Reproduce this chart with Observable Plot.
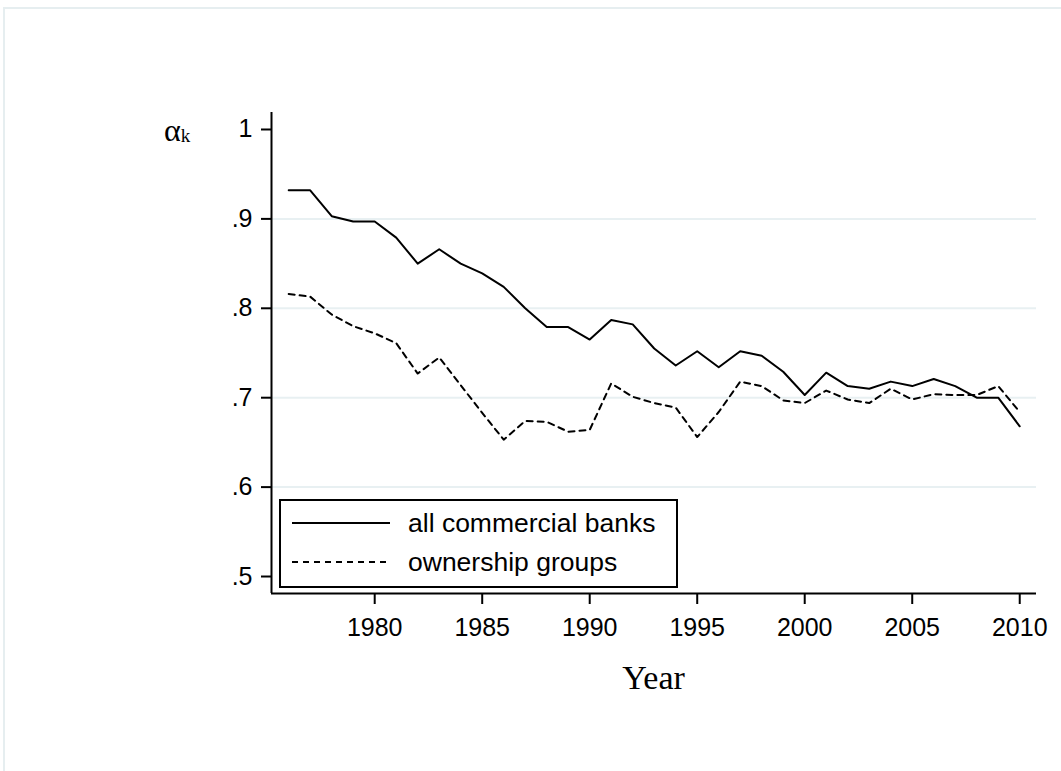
<!DOCTYPE html>
<html>
<head>
<meta charset="utf-8">
<script src="https://cdn.jsdelivr.net/npm/d3@7"></script>
<script src="https://cdn.jsdelivr.net/npm/@observablehq/plot@0.6"></script>
<style>
  html, body { margin: 0; padding: 0; background: #fff; overflow: hidden; }
  #wrap { position: relative; width: 1061px; height: 771px; }
  #frame { position: absolute; left: 3px; top: 7px; width: 1100px; height: 800px;
           border: 2px solid #e6eef0; pointer-events: none; }
</style>
</head>
<body>
<div id="wrap"><div id="frame"></div></div>
<script>
const years = [1976,1977,1978,1979,1980,1981,1982,1983,1984,1985,1986,1987,1988,1989,1990,
               1991,1992,1993,1994,1995,1996,1997,1998,1999,2000,2001,2002,2003,2004,2005,
               2006,2007,2008,2009,2010];
const allBanks = [0.932,0.932,0.903,0.897,0.897,0.879,0.850,0.866,0.850,0.839,0.824,0.800,0.779,0.779,0.765,
                  0.787,0.782,0.755,0.736,0.752,0.734,0.752,0.747,0.729,0.703,0.728,0.713,0.710,0.718,0.713,
                  0.721,0.713,0.700,0.700,0.668];
const ownershipGroups = [0.816,0.813,0.793,0.780,0.772,0.761,0.727,0.745,0.714,0.683,0.653,0.674,0.673,0.662,0.664,
                         0.716,0.701,0.694,0.689,0.656,0.684,0.718,0.713,0.697,0.694,0.708,0.698,0.694,0.710,0.698,
                         0.704,0.703,0.703,0.713,0.684];
const seriesNames = ["all commercial banks", "ownership groups"];
const xTicks = [1980,1985,1990,1995,2000,2005,2010];
const yTicks = [0.5,0.6,0.7,0.8,0.9,1];
const gridValues = [0.6,0.7,0.8,0.9];
const xLabel = "Year";

const data = [];
years.forEach((yr, i) => {
  data.push({year: yr, value: allBanks[i], series: seriesNames[0]});
  data.push({year: yr, value: ownershipGroups[i], series: seriesNames[1]});
});

const xDomain = [1975.2, 2010.78];
const yDomain = [0.481, 1.019];

const chart = Plot.plot({
  width: 1061,
  height: 771,
  marginLeft: 271,
  marginRight: 25,
  marginTop: 112,
  marginBottom: 178,
  style: {fontFamily: "'Liberation Sans', Arial, sans-serif", fontSize: "25px", color: "#000", background: "transparent"},
  x: {domain: xDomain},
  y: {domain: yDomain},
  marks: [
    Plot.ruleY(gridValues, {stroke: "#e8f0f2", strokeWidth: 2}),
    Plot.lineY(data.filter(d => d.series === seriesNames[0]), {x: "year", y: "value", stroke: "#000", strokeWidth: 2}),
    Plot.lineY(data.filter(d => d.series === seriesNames[1]), {x: "year", y: "value", stroke: "#000", strokeWidth: 2, strokeDasharray: "6,5"}),
    Plot.ruleY([yDomain[0]], {stroke: "#000", strokeWidth: 2}),
    Plot.ruleX([xDomain[0]], {stroke: "#000", strokeWidth: 2}),
    Plot.axisX({ticks: xTicks, tickFormat: d => String(d), tickSize: 11, tickPadding: 14, strokeWidth: 2, fontSize: 25, label: null}),
    Plot.axisY({ticks: yTicks, tickFormat: d => d === 1 ? "1" : d3.format(".1f")(d).replace(/^0/, ""), tickSize: 10, tickPadding: 9, strokeWidth: 2, fontSize: 25, label: null})
  ]
});

document.getElementById("wrap").prepend(chart);
chart.style.position = "absolute";
chart.style.left = "0";
chart.style.top = "0";

const svg = d3.select(chart);
const xs = chart.scale("x");
const left = xs.apply(xDomain[0]), right = xs.apply(xDomain[1]);

// y axis title: alpha_k
const yt = svg.append("text")
  .attr("x", 164).attr("y", 141)
  .attr("text-anchor", "start")
  .attr("font-family", "'Liberation Serif', 'Times New Roman', serif")
  .attr("font-size", 32).attr("fill", "#000");
yt.append("tspan").text("α");
yt.append("tspan").attr("font-size", 19).attr("dy", 1).text("k");

// x axis title
svg.append("text")
  .attr("x", (left + right) / 2).attr("y", 689)
  .attr("text-anchor", "middle")
  .attr("font-family", "'Liberation Serif', 'Times New Roman', serif")
  .attr("font-size", 34).attr("fill", "#000")
  .text(xLabel);

// legend
const lg = svg.append("g");
lg.append("rect").attr("x", 280).attr("y", 500).attr("width", 397).attr("height", 87)
  .attr("fill", "#fff").attr("stroke", "#000").attr("stroke-width", 2);
const rows = [{y: 523, dash: null}, {y: 562, dash: "6,5"}];
rows.forEach((r, i) => {
  const ln = lg.append("line").attr("x1", 292).attr("x2", 390).attr("y1", r.y).attr("y2", r.y)
    .attr("stroke", "#000").attr("stroke-width", 2);
  if (r.dash) ln.attr("stroke-dasharray", r.dash);
  lg.append("text").attr("x", 408).attr("y", r.y).attr("dy", "0.35em")
    .attr("text-anchor", "start")
    .attr("font-family", "'Liberation Sans', Arial, sans-serif").attr("font-size", 26.5)
    .attr("fill", "#000").text(seriesNames[i]);
});
</script>
</body>
</html>
